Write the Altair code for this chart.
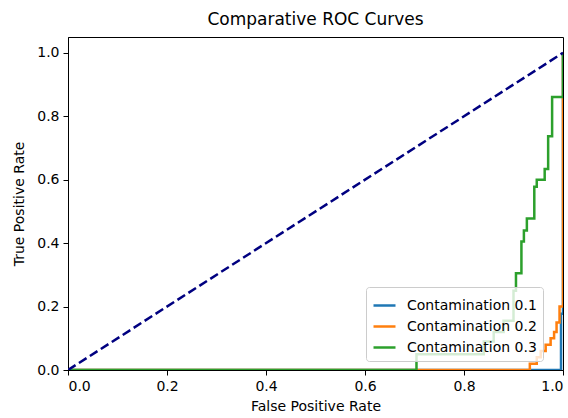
import altair as alt
import pandas as pd

# --- data ---
labels = ["Contamination 0.1", "Contamination 0.2", "Contamination 0.3"]
colors = ["#1f77b4", "#ff7f0e", "#2ca02c"]

fpr_01 = [0.0, 0.996, 0.996, 1.0, 1.0]
tpr_01 = [0.0, 0.0, 0.177, 0.177, 1.0]

fpr_02 = [0.0, 0.933, 0.933, 0.947, 0.947, 0.955, 0.955, 0.965, 0.965, 0.975, 0.975,
          0.982, 0.982, 0.987, 0.987, 0.993, 0.993, 1.0, 1.0]
tpr_02 = [0.0, 0.0, 0.02, 0.02, 0.04, 0.04, 0.06, 0.06, 0.08, 0.08, 0.10,
          0.10, 0.12, 0.12, 0.15, 0.15, 0.20, 0.20, 1.0]

fpr_03 = [0.0, 0.704, 0.704, 0.84, 0.84, 0.86, 0.86, 0.88, 0.88, 0.90, 0.90, 0.905, 0.905,
          0.916, 0.916, 0.921, 0.921, 0.927, 0.927, 0.942, 0.942, 0.947, 0.947,
          0.963, 0.963, 0.970, 0.970, 0.978, 0.978, 1.0, 1.0]
tpr_03 = [0.0, 0.0, 0.05, 0.05, 0.09, 0.09, 0.12, 0.12, 0.155, 0.155, 0.25, 0.25, 0.305,
          0.305, 0.405, 0.405, 0.44, 0.44, 0.478, 0.478, 0.578, 0.578, 0.60,
          0.60, 0.634, 0.634, 0.737, 0.737, 0.861, 0.861, 1.0]

diag_x = [0.0, 1.0]
diag_y = [0.0, 1.0]

x_ticks = [0.0, 0.2, 0.4, 0.6, 0.8, 1.0]
y_ticks = [0.0, 0.2, 0.4, 0.6, 0.8, 1.0]

rows = []
for lab, fx, ty in [(labels[0], fpr_01, tpr_01), (labels[1], fpr_02, tpr_02), (labels[2], fpr_03, tpr_03)]:
    for i, (a, b) in enumerate(zip(fx, ty)):
        rows.append({"series": lab, "fpr": a, "tpr": b, "order": i})
df = pd.DataFrame(rows)
diag = pd.DataFrame({"fpr": diag_x, "tpr": diag_y})

FONT = "DejaVu Sans"

xenc = alt.X("fpr:Q", scale=alt.Scale(domain=[0, 1], nice=False, zero=False),
             axis=alt.Axis(title="False Positive Rate", values=x_ticks, format=".1f"))
yenc = alt.Y("tpr:Q", scale=alt.Scale(domain=[0, 1.05], nice=False, zero=False),
             axis=alt.Axis(title="True Positive Rate", values=y_ticks, format=".1f"))

curves = alt.Chart(df).mark_line(strokeWidth=2.5, clip=True).encode(
    x=xenc,
    y=yenc,
    order="order:Q",
    color=alt.Color("series:N",
                    scale=alt.Scale(domain=labels, range=colors),
                    legend=alt.Legend(
                        title=None, orient="none", legendX=298, legendY=250,
                        symbolType="stroke", symbolSize=484, symbolStrokeWidth=2.5,
                        labelFontSize=14, labelFont=FONT, labelColor="#000000",
                        labelOffset=10, rowPadding=1, padding=6,
                        fillColor="rgba(255,255,255,0.8)", strokeColor="#cccccc",
                        cornerRadius=3)),
)

diagonal = alt.Chart(diag).mark_line(color="#000080", strokeWidth=2.5,
                                     strokeDash=[9, 4], clip=True).encode(
    x="fpr:Q", y="tpr:Q")

chart = alt.layer(curves, diagonal).properties(
    width=495, height=333,
    title=alt.TitleParams("Comparative ROC Curves", fontSize=17, font=FONT,
                          fontWeight="normal", color="#000000", offset=8),
    autosize=alt.AutoSizeParams(type="none"),
    padding={"left": 68, "top": 37, "right": 5, "bottom": 48},
).configure_view(stroke="#000000", strokeWidth=1).configure_axis(
    grid=False, domainColor="#000000", domainWidth=1, tickColor="#000000",
    tickSize=5, tickWidth=1, labelPadding=4, labelFont=FONT, labelFontSize=14,
    labelColor="#000000", titleFont=FONT, titleFontSize=14, titleFontWeight="normal",
    titleColor="#000000",
).configure_axisX(titlePadding=6).configure_axisY(titlePadding=10)

chart.save("out.html", embed_options={"renderer": "svg", "actions": False})
